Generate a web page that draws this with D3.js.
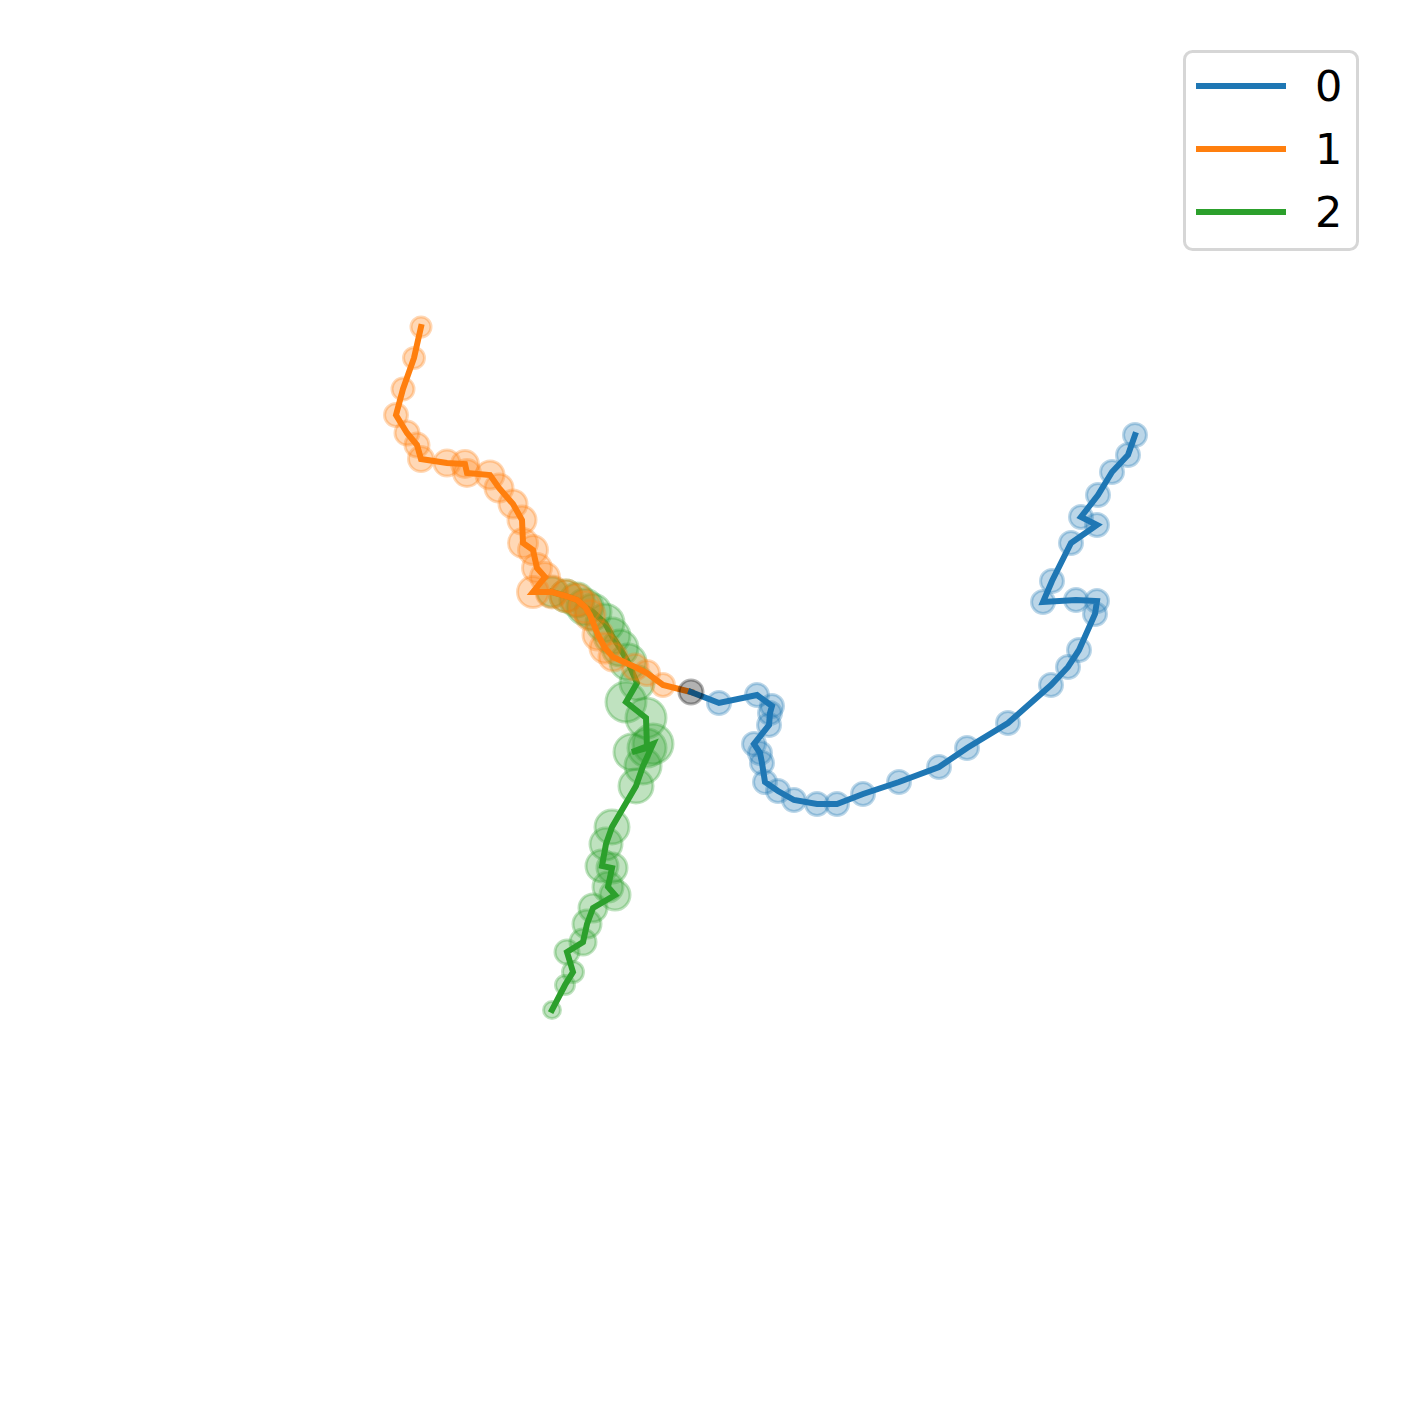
<!DOCTYPE html>
<html>
<head>
<meta charset="utf-8">
<script src="https://cdn.jsdelivr.net/npm/d3@7"></script>
<style>
  html, body { margin: 0; padding: 0; background: #fff; }
  svg { display: block; }
</style>
</head>
<body>
<svg id="chart" width="1409" height="1410"></svg>
<script>
// ---------------- data ----------------
const seriesNames = ["0", "1", "2"];

const origin = { x: 0, y: 0, size: 144 };

const path0X = [0, 0.28, 0.66, 0.81, 0.79, 0.78, 0.63, 0.69, 0.71, 0.74, 0.87, 1.03, 1.26, 1.46, 1.72, 2.08, 2.48, 2.76, 3.17, 3.60, 3.77, 3.88, 4.04, 4.06, 3.85, 3.52, 3.61, 3.80, 4.06, 3.90, 4.07, 4.21, 4.37, 4.44];
const path0Y = [0, -0.11, -0.03, -0.14, -0.21, -0.33, -0.52, -0.61, -0.71, -0.90, -0.99, -1.08, -1.12, -1.12, -1.02, -0.90, -0.75, -0.56, -0.31, 0.07, 0.25, 0.42, 0.78, 0.91, 0.92, 0.90, 1.11, 1.49, 1.67, 1.75, 1.97, 2.20, 2.37, 2.57];
const path0S = [0, 132, 132, 132, 132, 132, 132, 132, 132, 132, 132, 132, 132, 132, 132, 132, 132, 132, 132, 132, 132, 132, 132, 132, 132, 132, 132, 132, 132, 132, 132, 132, 132, 132];

const path1X = [0, -0.28, -0.44, -0.56, -0.78, -0.86, -0.93, -1.01, -1.06, -1.14, -1.25, -1.39, -1.58, -1.46, -1.54, -1.58, -1.68, -1.69, -1.78, -1.92, -2.01, -2.24, -2.26, -2.44, -2.70, -2.74, -2.84, -2.95, -2.88, -2.77, -2.70];
const path1Y = [0, 0.07, 0.19, 0.25, 0.35, 0.44, 0.57, 0.77, 0.85, 0.92, 0.96, 1.00, 1.00, 1.15, 1.24, 1.42, 1.49, 1.72, 1.88, 2.04, 2.17, 2.19, 2.28, 2.29, 2.33, 2.47, 2.59, 2.77, 3.03, 3.34, 3.65];
const path1S = [0, 132, 156, 169, 196, 225, 225, 225, 256, 256, 256, 256, 240, 210, 210, 210, 210, 196, 196, 196, 196, 182, 182, 169, 156, 144, 144, 132, 121, 110, 100];

const path2X = [-1.39, -1.25, -1.14, -1.06, -0.98, -0.86, -0.79, -0.71, -0.63, -0.54, -0.65, -0.45, -0.44, -0.59, -0.38, -0.48, -0.55, -0.79, -0.85, -0.89, -0.79, -0.83, -0.76, -0.98, -1.04, -1.08, -1.24, -1.18, -1.26, -1.39];
const path2Y = [1.00, 0.96, 0.92, 0.85, 0.80, 0.69, 0.56, 0.44, 0.30, 0.09, -0.10, -0.26, -0.56, -0.60, -0.52, -0.74, -0.94, -1.35, -1.52, -1.74, -1.76, -1.95, -2.03, -2.16, -2.32, -2.50, -2.60, -2.80, -2.93, -3.18];
const path2S = [225, 256, 289, 324, 324, 361, 324, 324, 324, 289, 400, 400, 361, 324, 400, 324, 289, 289, 256, 256, 225, 225, 225, 196, 196, 169, 144, 110, 90, 72];

const colors = ["#1f77b4", "#ff7f0e", "#2ca02c"];

// ---------------- build ----------------
function zipPath(xs, ys, ss) { return xs.map((x, i) => ({ x, y: ys[i], s: ss[i] })); }
const paths = [
  zipPath(path0X, path0Y, path0S),
  zipPath(path1X, path1Y, path1S),
  zipPath(path2X, path2Y, path2S)
];

const svg = d3.select("#chart");
const x = d3.scaleLinear().domain([-5, 5]).range([191, 1191]);
const y = d3.scaleLinear().domain([-5, 5]).range([1192, 192]);
const r = d3.scaleSqrt().domain([0, 400]).range([0, 20]);

const line = d3.line().x(d => x(d.x)).y(d => y(d.y));

// draw series: green, then orange, then blue (circles then line each)
[2, 1, 0].forEach(k => {
  const pts = paths[k];
  svg.append("g").selectAll("circle")
    .data(pts.filter(d => d.s > 0))
    .join("circle")
    .attr("cx", d => x(d.x))
    .attr("cy", d => y(d.y))
    .attr("r", d => r(d.s))
    .attr("fill", colors[k])
    .attr("fill-opacity", 0.3)
    .attr("stroke", colors[k])
    .attr("stroke-opacity", 0.3)
    .attr("stroke-width", 3);
  svg.append("path")
    .datum(pts)
    .attr("d", line)
    .attr("fill", "none")
    .attr("stroke", colors[k])
    .attr("stroke-width", 6)
    .attr("stroke-linejoin", "miter")
    .attr("stroke-linecap", "square");
});

// origin marker
svg.append("circle")
  .attr("cx", x(origin.x))
  .attr("cy", y(origin.y))
  .attr("r", r(origin.size))
  .attr("fill", "#000")
  .attr("fill-opacity", 0.3)
  .attr("stroke", "#000")
  .attr("stroke-opacity", 0.3)
  .attr("stroke-width", 3);

// legend
const lg = svg.append("g");
lg.append("rect")
  .attr("x", 1184.5).attr("y", 51.5)
  .attr("width", 173).attr("height", 198)
  .attr("rx", 8).attr("ry", 8)
  .attr("fill", "#fff")
  .attr("stroke", "#d6d6d6")
  .attr("stroke-width", 3);
seriesNames.forEach((name, i) => {
  const yy = 86 + i * 63;
  lg.append("line")
    .attr("x1", 1196).attr("x2", 1286)
    .attr("y1", yy).attr("y2", yy)
    .attr("stroke", colors[i])
    .attr("stroke-width", 6);
  lg.append("text")
    .attr("x", 1315).attr("y", yy + 15)
    .attr("font-family", "DejaVu Sans")
    .attr("font-size", 43)
    .attr("fill", "#000")
    .text(name);
});
</script>
</body>
</html>
